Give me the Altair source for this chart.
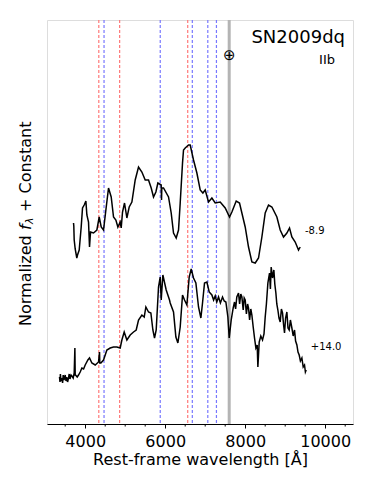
import altair as alt
import pandas as pd

# ---- data (flux in arbitrary units, constant offsets included)
top_lam = [3708, 3715, 3725, 3750, 3790, 3808, 3850, 3900, 3933, 3975, 4017, 4042, 4083, 4108,
           4133, 4208, 4292, 4350, 4400, 4458, 4517, 4583, 4650, 4708, 4767, 4817, 4875, 4900,
           4933, 4983, 5042, 5100, 5167, 5250, 5333, 5417, 5500, 5583, 5650, 5708, 5767, 5817,
           5900, 5908, 5915, 5958, 6083, 6150, 6208, 6275, 6333, 6375, 6433, 6458, 6500, 6583,
           6625, 6708, 6792, 6875, 6942, 7000, 7083, 7167, 7250, 7375, 7500, 7608, 7667, 7775,
           7858, 8000, 8083, 8167, 8250, 8333, 8417, 8500, 8583, 8667, 8792, 8875, 8958, 9042,
           9108, 9167, 9250, 9333, 9375]
top_flux = [201, 198, 184, 175, 166, 169, 174, 197, 216, 219, 223, 209, 202, 177,
            192, 191, 194, 207, 197, 194, 214, 236, 227, 207, 204, 197, 202, 196,
            212, 221, 206, 217, 222, 244, 257, 252, 244, 244, 236, 227, 232, 241,
            239, 224, 236, 236, 227, 211, 191, 186, 194, 221, 261, 274, 276, 279,
            279, 264, 251, 234, 231, 234, 222, 226, 221, 222, 216, 207, 212, 223,
            221, 197, 177, 162, 161, 166, 187, 211, 219, 217, 207, 194, 187, 191,
            196, 187, 182, 174, 177]

bot_lam = [3358, 3370, 3380, 3395, 3417, 3435, 3450, 3470, 3500, 3520, 3540, 3560, 3583, 3600,
           3620, 3645, 3667, 3700, 3725, 3742, 3750, 3758, 3800, 3833, 3875, 3917, 3960, 4000,
           4067, 4108, 4167, 4250, 4333, 4358, 4365, 4392, 4458, 4542, 4625, 4708, 4792, 4875,
           4917, 4975, 5042, 5125, 5208, 5275, 5333, 5417, 5475, 5517, 5583, 5642, 5692, 5733,
           5775, 5833, 5875, 5900, 5942, 6025, 6108, 6125, 6208, 6267, 6317, 6375, 6433, 6483,
           6542, 6600, 6650, 6708, 6767, 6833, 6892, 6933, 6983, 7042, 7100, 7167, 7210, 7250,
           7290, 7333, 7380, 7433, 7475, 7517, 7567, 7600, 7650, 7700, 7733, 7760, 7790, 7833,
           7860, 7890, 7917, 7950, 7975, 8000, 8030, 8060, 8083, 8110, 8140, 8167, 8200, 8233,
           8267, 8300, 8317, 8350, 8390, 8433, 8470, 8500, 8530, 8567, 8608, 8630, 8650, 8683,
           8717, 8740, 8767, 8790, 8817, 8845, 8875, 8905, 8933, 8960, 8983, 9010, 9042, 9070,
           9100, 9130, 9167, 9200, 9233, 9260, 9292, 9320, 9350, 9380, 9417, 9450, 9483, 9505,
           9525]
bot_flux = [47, 42, 50, 43, 46, 41, 49, 44, 49, 43, 47, 42, 46, 50,
            45, 49, 48, 46, 51, 76, 49, 49, 47, 49, 52, 56, 55, 59,
            64, 66, 61, 59, 62, 72, 61, 61, 64, 74, 76, 77, 77, 76,
            84, 92, 84, 89, 92, 94, 104, 109, 107, 117, 112, 111, 94, 86,
            94, 137, 147, 124, 149, 134, 124, 121, 112, 87, 81, 97, 129, 124,
            119, 147, 155, 146, 141, 117, 106, 121, 141, 142, 132, 129, 124, 128,
            122, 127, 121, 127, 123, 122, 107, 86, 104, 116, 122, 115, 127, 131,
            120, 130, 127, 114, 126, 124, 110, 120, 116, 104, 115, 109, 97, 86,
            76, 79, 57, 82, 88, 84, 90, 107, 120, 141, 151, 135, 157, 146,
            154, 140, 131, 120, 114, 106, 102, 115, 111, 99, 91, 106, 112, 96,
            94, 104, 96, 88, 94, 83, 79, 72, 69, 63, 66, 57, 59, 52,
            54]

h_lines = [4340, 4861, 6563]
he_lines = [4471, 5876, 6678, 7065, 7281]
telluric = [7600]
major_ticks = [4000, 6000, 8000, 10000]
minor_ticks = [3500, 4500, 5000, 5500, 6500, 7000, 7500, 8500, 9000, 9500, 10500]
phase_lam = [9495, 9640]
phase_flux = [193, 77]
phase_text = ["-8.9", "+14.0"]

FONT = "DejaVu Sans"
xscale = alt.Scale(domain=[3045, 10695], nice=False, zero=False)
yscale = alt.Scale(domain=[0, 404], nice=False, zero=False)
xaxis = alt.Axis(values=major_ticks, title="Rest-frame wavelength [Å]", grid=False,
                 tickSize=4, tickColor="black", domainColor="black", labelColor="black",
                 titleColor="black",
                 labelFontSize=16, titleFontSize=16, labelFont=FONT, titleFont=FONT,
                 titleFontWeight="normal", labelPadding=5, titlePadding=2, format="d",
                 labelFlush=False)
X = alt.X("lam:Q", scale=xscale, axis=xaxis)
Y = alt.Y("flux:Q", scale=yscale, axis=None)

spec = pd.concat([
    pd.DataFrame({"lam": top_lam, "flux": top_flux, "s": "top"}),
    pd.DataFrame({"lam": bot_lam, "flux": bot_flux, "s": "bot"}),
])
vlines = pd.DataFrame({"lam": h_lines + he_lines,
                       "kind": ["H"] * len(h_lines) + ["He"] * len(he_lines)})
tel = pd.DataFrame({"lam": telluric})
minor = pd.DataFrame({"lam": minor_ticks})
phases = pd.DataFrame({"lam": phase_lam, "flux": phase_flux, "t": phase_text})
one = pd.DataFrame({"a": [0]})

lines_layer = alt.Chart(vlines).mark_rule(strokeWidth=1.2, strokeDash=[3, 2]).encode(
    x=X,
    color=alt.Color("kind:N", scale=alt.Scale(domain=["H", "He"], range=["#ff7878", "#7878ff"]),
                    legend=None),
)
tel_layer = alt.Chart(tel).mark_rule(strokeWidth=3, color="#b4b4b4").encode(x=X)
spec_layer = alt.Chart(spec).mark_line(color="black", strokeWidth=1.5).encode(
    x=X, y=Y, detail="s:N", order="lam:Q")
minor_layer = alt.Chart(minor).mark_rule(color="black", strokeWidth=1).encode(
    x=X, y=alt.value(404), y2=alt.value(406.5))
phase_layer = alt.Chart(phases).mark_text(align="left", baseline="middle", fontSize=10,
                                          font=FONT, color="black").encode(
    x=X, y=Y, text="t:N")
earth = alt.Chart(tel).mark_text(text="⊕", fontSize=15, font=FONT, color="black",
                                 baseline="middle").encode(x=X, y=alt.value(35))

name = alt.Chart(one).mark_text(text="SN2009dq", fontSize=18, font=FONT, align="right",
                                baseline="alphabetic", color="black").encode(
    x=alt.value(298), y=alt.value(23))
sntype = alt.Chart(one).mark_text(text="IIb", fontSize=13, font=FONT, align="right",
                                  baseline="alphabetic", color="black").encode(
    x=alt.value(288), y=alt.value(44))

ytx = -21
FS = 16
yt1 = alt.Chart(one).mark_text(text="Normalized", fontSize=FS, font=FONT, angle=270,
                               align="left", baseline="middle", color="black").encode(
    x=alt.value(ytx), y=alt.value(306))
yt2 = alt.Chart(one).mark_text(text="f", fontSize=FS, font=FONT, fontStyle="italic", angle=270,
                               align="left", baseline="middle", color="black").encode(
    x=alt.value(ytx), y=alt.value(210))
yt3 = alt.Chart(one).mark_text(text="λ", fontSize=11, font=FONT, fontStyle="italic", angle=270,
                               align="left", baseline="middle", color="black").encode(
    x=alt.value(ytx + 4), y=alt.value(204))
yt4 = alt.Chart(one).mark_text(text="+ Constant", fontSize=FS, font=FONT, angle=270,
                               align="left", baseline="middle", color="black").encode(
    x=alt.value(ytx), y=alt.value(192))

chart = alt.layer(
    lines_layer, tel_layer, spec_layer, minor_layer, phase_layer, earth,
    name, sntype, yt1, yt2, yt3, yt4,
).properties(
    width=306, height=404,
    autosize=alt.AutoSizeParams(type="none"),
    padding={"left": 39, "top": 12, "right": 13, "bottom": 54},
).configure_view(stroke="black", strokeWidth=1.2).configure(background="white")

chart.save("out.html", embed_options={"renderer": "svg", "actions": False})
